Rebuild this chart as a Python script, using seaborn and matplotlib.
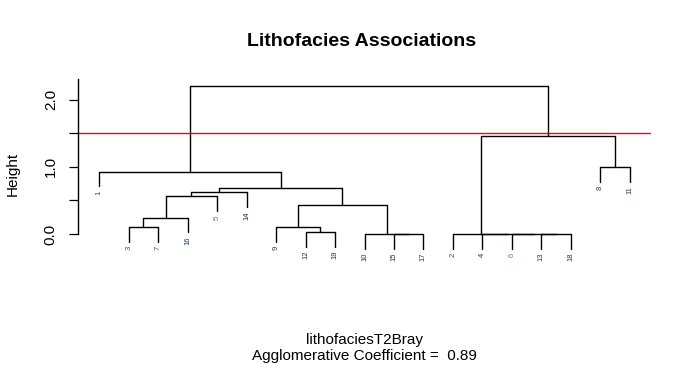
import numpy as np
import pandas as pd
import matplotlib
matplotlib.use('Agg')
import matplotlib.pyplot as plt
import seaborn as sns

# ---- datos del dendrograma (agnes, estilo R) ----
leaf_order = [1, 3, 7, 16, 5, 14, 9, 12, 19, 10, 15, 17, 2, 4, 6, 13, 18, 8, 11]
# merges: negativo = observacion, positivo = paso previo (1-based)
merge_a = [-15, -10, -13, -6, -4, -2, -12, -3, -9, 8, 9, 10, 12, 13, -1, -8, 6, 15]
merge_b = [-17, 1, -18, 3, 4, 5, -19, -7, 7, -16, 2, -5, -14, 11, 14, -11, 16, 17]
merge_h = [0.0, 0.0, 0.0, 0.0, 0.0, 0.0, 0.03, 0.108, 0.108, 0.245, 0.44, 0.56,
           0.62, 0.68, 0.93, 1.00, 1.46, 2.20]
cut_height = 1.5
ac = 0.89

label_colors = {1: '#6b2a1a', 3: '#4a5a1a', 7: '#2a5a5a', 16: '#1a3a7a', 5: '#b05a1a',
                14: '#1a2a5a', 9: '#333333', 12: '#2a2a4a', 19: '#333333', 10: '#333333',
                15: '#333333', 17: '#333333', 2: '#2a4a8a', 4: '#333333', 6: '#b06a2a',
                13: '#4a2a6a', 18: '#4a2a5a', 8: '#2a3a8a', 11: '#1a4a2a'}

sns.set_style('white')
plt.rcParams['font.family'] = ['Liberation Sans', 'DejaVu Sans']
plt.rcParams['text.color'] = 'black'
plt.rcParams['ytick.color'] = 'black'
plt.rcParams['axes.edgecolor'] = 'black'

hang = 0.1 * max(merge_h)
leaf_x = {obs: i + 1 for i, obs in enumerate(leaf_order)}
node_x = {}

rows = []
leaf_bottoms = {}
for k, (a, b, h) in enumerate(zip(merge_a, merge_b, merge_h), start=1):
    pts = []
    for c in (a, b):
        if c < 0:
            x = leaf_x[-c]
            y0 = h - hang
            leaf_bottoms[-c] = y0
        else:
            x = node_x[c]
            y0 = merge_h[c - 1]
        pts.append((x, y0))
    node_x[k] = (pts[0][0] + pts[1][0]) / 2
    poly = [pts[0], (pts[0][0], h), (pts[1][0], h), pts[1]]
    for j, (x, y) in enumerate(poly):
        rows.append({'seg': k, 'ord': j, 'x': x, 'y': y})
seg_df = pd.DataFrame(rows)

fig = plt.figure(figsize=(6.91, 3.68), dpi=100)
ax = fig.add_axes([78 / 691, 1 - 253.5 / 368, 573 / 691, 174.5 / 368])

sns.lineplot(data=seg_df, x='x', y='y', units='seg', estimator=None, sort=False,
             color='black', linewidth=1.0, ax=ax, legend=False)
ax.axhline(cut_height, color='#ff0000', linewidth=1.0)

for obs in leaf_order:
    ax.annotate(str(obs), (leaf_x[obs], leaf_bottoms[obs]), xytext=(0, -3),
                textcoords='offset points', rotation=90, ha='center', va='top',
                fontsize=5.5, color=label_colors[obs])

ax.set_xlim(0.28, 19.72)
ax.set_ylim(-0.29, 2.31)
ax.set_xticks([])
ax.set_yticks([0, 0.5, 1.0, 1.5, 2.0])
ax.set_yticklabels(['0.0', '', '1.0', '', '2.0'], rotation=90, va='center', fontsize=11)
ax.tick_params(axis='y', direction='out', length=6.5, width=0.9, pad=8, left=True,
               colors='black')
ax.set_xlabel('')
ax.set_ylabel('')
for s in ['top', 'right', 'bottom']:
    ax.spines[s].set_visible(False)
ax.spines['left'].set_bounds(0, 2.31)
ax.spines['left'].set_linewidth(1.0)

fig.text(362 / 691, 1 - 42 / 368, 'Lithofacies Associations', ha='center', va='center',
         fontsize=14, fontweight='bold')
fig.text(12.5 / 691, 1 - 174 / 368, 'Height', rotation=90, ha='center', va='center',
         fontsize=11)
fig.text(364.5 / 691, 1 - 340 / 368, 'lithofaciesT2Bray', ha='center', va='center',
         fontsize=11)
fig.text(364.5 / 691, 1 - 356 / 368, 'Agglomerative Coefficient =  %.2f' % ac,
         ha='center', va='center', fontsize=11)

fig.savefig('out.png', dpi=100)
